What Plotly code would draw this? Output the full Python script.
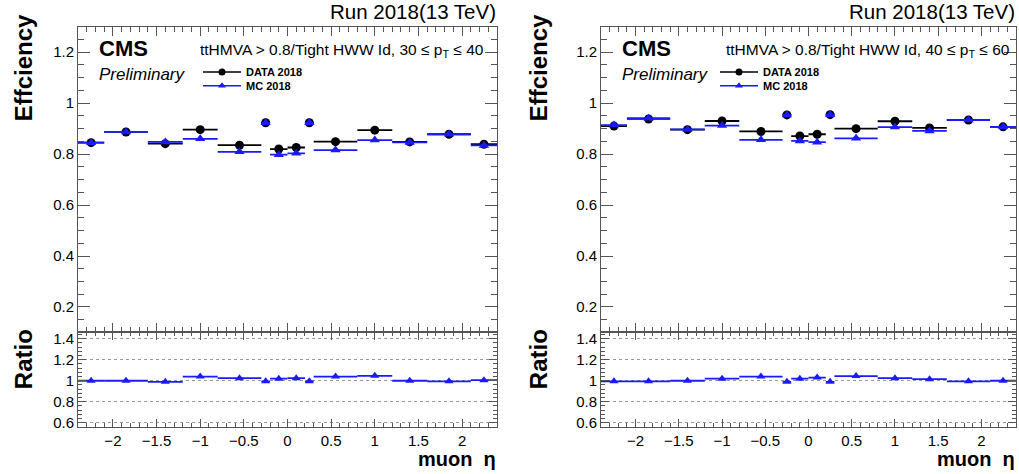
import plotly.graph_objects as go
import numpy as np

# ---------------- data ----------------
eta_edges = [-2.4, -2.1, -1.6, -1.2, -0.8, -0.3, -0.2, 0.0, 0.2, 0.3, 0.8, 1.2, 1.6, 2.1, 2.4]

# panel 1: 30 <= pT <= 40
data_30_40 = [0.845, 0.887, 0.841, 0.896, 0.835, 0.923, 0.820, 0.826, 0.923, 0.849, 0.894, 0.848, 0.878, 0.839]
mc_30_40   = [0.845, 0.887, 0.848, 0.860, 0.809, 0.923, 0.798, 0.803, 0.923, 0.816, 0.855, 0.846, 0.878, 0.834]
ratio_30_40 = [1.000, 1.000, 0.990, 1.040, 1.025, 0.995, 1.020, 1.025, 0.995, 1.040, 1.047, 1.000, 0.995, 1.006]

# panel 2: 40 <= pT <= 60
data_40_60 = [0.910, 0.938, 0.896, 0.930, 0.889, 0.954, 0.871, 0.878, 0.955, 0.900, 0.929, 0.903, 0.934, 0.907]
mc_40_60   = [0.914, 0.941, 0.897, 0.912, 0.856, 0.954, 0.852, 0.847, 0.955, 0.862, 0.906, 0.891, 0.934, 0.907]
ratio_40_60 = [0.995, 0.995, 1.000, 1.020, 1.040, 0.990, 1.020, 1.030, 0.990, 1.045, 1.025, 1.015, 0.995, 1.000]

panel_labels = ["ttHMVA > 0.8/Tight HWW Id, 30 \u2264 p<sub>T</sub> \u2264 40",
                "ttHMVA > 0.8/Tight HWW Id, 40 \u2264 p<sub>T</sub> \u2264 60"]
legend_names = ["<b>DATA 2018</b>", "<b>MC 2018</b>"]

# ---------------- helpers ----------------
W, H = 1019, 474
FONT = "Liberation Sans, Arial, sans-serif"
edges = np.array(eta_edges)
centers = (edges[:-1] + edges[1:]) / 2
halfw = (edges[1:] - edges[:-1]) / 2

def px(x):
    return x / W

def py(y):
    return 1 - y / H

BLUE = "#1a1aff"
AXC = "#555555"

fig = go.Figure()

panels = [
    dict(data=data_30_40, mc=mc_30_40, ratio=ratio_30_40, x0=78, x1=497, ax=("x", "y", "x2", "y2"),
         label=panel_labels[0], legends=("legend", "legend2"), ytx=23, labx=198, legx=198),
    dict(data=data_40_60, mc=mc_40_60, ratio=ratio_40_60, x0=601, x1=1016, ax=("x3", "y3", "x4", "y4"),
         label=panel_labels[1], legends=("legend3", "legend4"), ytx=538, labx=724, legx=715),
]

TOP_Y0, TOP_Y1 = 25, 334
RAT_Y0, RAT_Y1 = 334, 430

annotations = []
legends_layout = {}
legend_common = dict(font=dict(size=11, family=FONT, color="black"), bgcolor="rgba(0,0,0,0)",
                     xanchor="left", yanchor="top", tracegroupgap=0, itemwidth=38,
                     borderwidth=0)
for p in panels:
    xt, yt, xr, yr = p["ax"]
    # data
    fig.add_trace(go.Scatter(
        x=centers, y=p["data"], mode="markers", xaxis=xt, yaxis=yt, showlegend=False,
        marker=dict(symbol="circle", size=9, color="black"),
        error_x=dict(type="data", array=halfw, symmetric=True, color="black", thickness=1.8, width=0),
    ))
    fig.add_trace(go.Scatter(
        x=centers, y=p["mc"], mode="markers", xaxis=xt, yaxis=yt, showlegend=False,
        marker=dict(symbol="triangle-up", size=9, color=BLUE),
        error_x=dict(type="data", array=halfw, symmetric=True, color=BLUE, thickness=1.8, width=0),
    ))
    # legend entries
    fig.add_trace(go.Scatter(
        x=[None], y=[None], mode="lines+markers", xaxis=xt, yaxis=yt, name=legend_names[0],
        legend=p["legends"][0], line=dict(color="black", width=1.5),
        marker=dict(symbol="circle", size=7, color="black"),
    ))
    fig.add_trace(go.Scatter(
        x=[None], y=[None], mode="lines+markers", xaxis=xt, yaxis=yt, name=legend_names[1],
        legend=p["legends"][1], line=dict(color=BLUE, width=1.5),
        marker=dict(symbol="triangle-up", size=7, color=BLUE),
    ))
    # ratio
    fig.add_trace(go.Scatter(
        x=centers, y=p["ratio"], mode="markers", xaxis=xr, yaxis=yr, showlegend=False,
        marker=dict(symbol="triangle-up", size=8, color=BLUE),
        error_x=dict(type="data", array=halfw, symmetric=True, color=BLUE, thickness=1.8, width=0),
    ))

    legends_layout[p["legends"][0]] = dict(legend_common, x=px(p["legx"]), y=py(56))
    legends_layout[p["legends"][1]] = dict(legend_common, x=px(p["legx"]), y=py(70))

    x0, x1 = p["x0"], p["x1"]
    annotations += [
        dict(text="<b>CMS</b>", x=px(x0 + 19), y=py(47), xanchor="left", yanchor="middle",
             font=dict(size=22, family=FONT, color="black")),
        dict(text="<i>Preliminary</i>", x=px(x0 + 19), y=py(73), xanchor="left", yanchor="middle",
             font=dict(size=17, family=FONT, color="black")),
        dict(text=p["label"], x=px(p["labx"]), y=py(49), xanchor="left", yanchor="middle",
             font=dict(size=15.5, family=FONT, color="black")),
        dict(text="Run 2018(13 TeV)", x=px(x1 + 1), y=py(10), xanchor="right", yanchor="middle",
             font=dict(size=20.5, family=FONT, color="black")),
        dict(text="<b>Effciency</b>", x=px(p["ytx"]), y=py(67), xanchor="center", yanchor="middle",
             textangle=-90, font=dict(size=24, family=FONT, color="black")),
        dict(text="<b>Ratio</b>", x=px(p["ytx"]), y=py(361), xanchor="center", yanchor="middle",
             textangle=-90, font=dict(size=24, family=FONT, color="black")),
        dict(text="<b>muon  \u03b7</b>", x=px(x1 + 1), y=py(462), xanchor="right", yanchor="middle",
             font=dict(size=20, family=FONT, color="black")),
    ]

common_axis = dict(showline=True, linecolor=AXC, linewidth=1, mirror="allticks",
                   ticks="inside", tickcolor=AXC, zeroline=False,
                   tickfont=dict(size=15, family=FONT, color="black"))

layout_axes = {}
for i, p in enumerate(panels):
    n = 2 * i
    xt_name = "xaxis" if n == 0 else f"xaxis{n + 1}"
    yt_name = "yaxis" if n == 0 else f"yaxis{n + 1}"
    xr_name = f"xaxis{n + 2}"
    yr_name = f"yaxis{n + 2}"
    dom_x = [px(p["x0"]), px(p["x1"])]
    xt_id = "x" if n == 0 else f"x{n + 1}"
    yt_id = "y" if n == 0 else f"y{n + 1}"
    xr_id = f"x{n + 2}"
    yr_id = f"y{n + 2}"
    layout_axes[xt_name] = dict(common_axis, domain=dom_x, range=[-2.4, 2.4], anchor=yt_id,
                                dtick=0.5, tick0=0, ticklen=9, showticklabels=False, showgrid=False,
                                minor=dict(dtick=0.1, tick0=0, ticklen=5, ticks="inside", tickcolor=AXC))
    layout_axes[yt_name] = dict(common_axis, domain=[py(TOP_Y1), py(TOP_Y0)], range=[0.1, 1.3], anchor=xt_id,
                                dtick=0.2, tick0=0, ticklen=12, showgrid=False,
                                minor=dict(dtick=0.05, tick0=0, ticklen=6, ticks="inside", tickcolor=AXC))
    layout_axes[xr_name] = dict(common_axis, domain=dom_x, range=[-2.4, 2.4], anchor=yr_id,
                                dtick=0.5, tick0=0, ticklen=8, showgrid=False,
                                minor=dict(dtick=0.1, tick0=0, ticklen=4, ticks="inside", tickcolor=AXC))
    layout_axes[yr_name] = dict(common_axis, domain=[py(RAT_Y1), py(RAT_Y0)], range=[0.555, 1.46], anchor=xr_id,
                                dtick=0.2, tick0=0, ticklen=8, showgrid=True, gridcolor="#999999",
                                griddash="dot", gridwidth=1,
                                minor=dict(dtick=0.04, tick0=0, ticklen=4, ticks="inside", tickcolor=AXC))

fig.update_layout(
    width=W, height=H,
    margin=dict(l=0, r=0, t=0, b=0),
    paper_bgcolor="white", plot_bgcolor="white",
    font=dict(family=FONT, color="black"),
    annotations=[dict(a, xref="paper", yref="paper", showarrow=False) for a in annotations],
    **legends_layout,
    **layout_axes,
)

fig.write_html("out.html")
